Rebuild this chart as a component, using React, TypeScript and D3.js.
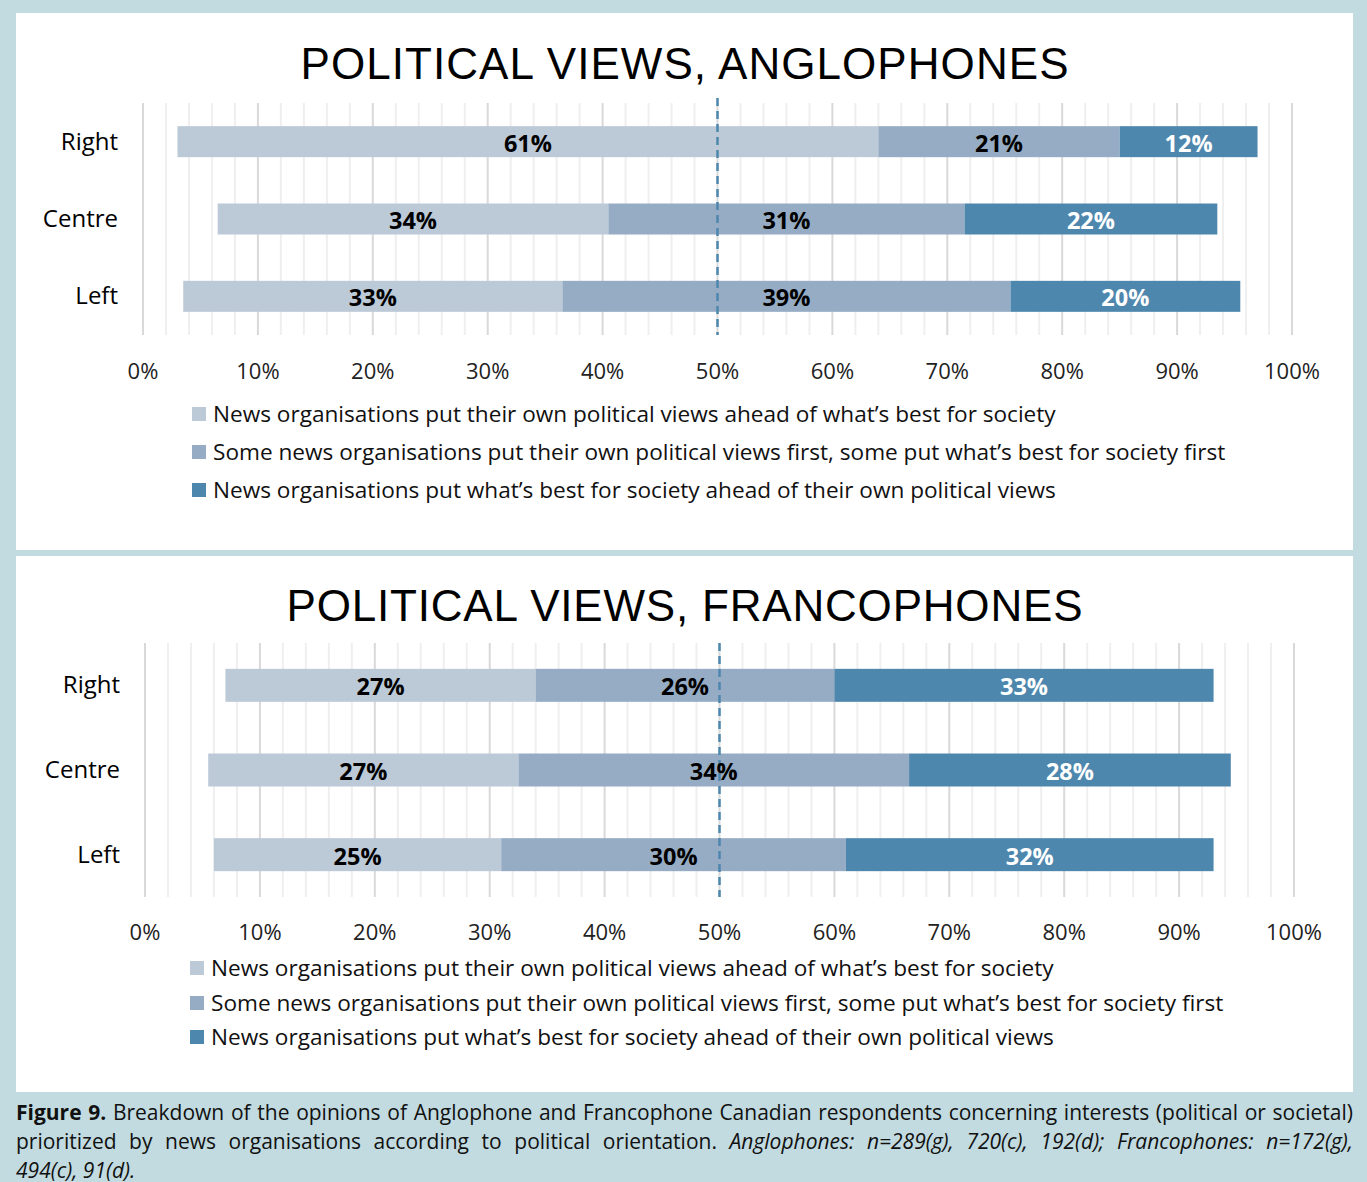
import React, { useMemo } from "react";
import * as d3 from "d3";

const categories = ["Right", "Centre", "Left"];
const seriesKeys = ["offset", "political", "mixed", "society"];
const seriesColors = ["none", "#bccad8", "#95acc4", "#4e87ad"];
const labelColors = ["none", "#000000", "#000000", "#ffffff"];
const legendLabels = [
  "News organisations put their own political views ahead of what\u2019s best for society",
  "Some news organisations put their own political views first, some put what\u2019s best for society first",
  "News organisations put what\u2019s best for society ahead of their own political views",
];
const tickValues = [0, 10, 20, 30, 40, 50, 60, 70, 80, 90, 100];

// Anglophones
const angloOffset = [3, 6.5, 3.5];
const angloPolitical = [61, 34, 33];
const angloMixed = [21, 31, 39];
const angloSociety = [12, 22, 20];

// Francophones
const francoOffset = [7, 5.5, 6];
const francoPolitical = [27, 27, 25];
const francoMixed = [26, 34, 30];
const francoSociety = [33, 28, 32];

const captionLines = [
  [
    ["Figure", "b"], ["9.", "b"], ["Breakdown", "n"], ["of", "n"], ["the", "n"], ["opinions", "n"], ["of", "n"],
    ["Anglophone", "n"], ["and", "n"], ["Francophone", "n"], ["Canadian", "n"], ["respondents", "n"],
    ["concerning", "n"], ["interests", "n"], ["(political", "n"], ["or", "n"], ["societal)", "n"],
  ],
  [
    ["prioritized", "n"], ["by", "n"], ["news", "n"], ["organisations", "n"], ["according", "n"], ["to", "n"],
    ["political", "n"], ["orientation.", "n"], ["Anglophones:", "i"], ["n=289(g),", "i"], ["720(c),", "i"],
    ["192(d);", "i"], ["Francophones:", "i"], ["n=172(g),", "i"],
  ],
  [["494(c),", "i"], ["91(d).", "i"]],
];

const FONT = "'Open Sans', 'Noto Sans', sans-serif";
const BG = "#c2dbe0";

type ChartProps = {
  title: string;
  titleY: number;
  titleLen: number;
  offset: number[];
  political: number[];
  mixed: number[];
  society: number[];
  xRange: [number, number];
  yRange: [number, number];
  barH: number;
  dashTop: number;
  tickY: number;
  legendX: number;
  legendY: number[];
  labelX: number;
};

function Chart(p: ChartProps) {
  const x = d3.scaleLinear().domain([0, 100]).range(p.xRange);
  const y = d3.scalePoint<string>().domain(categories).range(p.yRange).padding(0.5);
  const rows = categories.map((c, i) => ({
    cat: c,
    offset: p.offset[i],
    political: p.political[i],
    mixed: p.mixed[i],
    society: p.society[i],
  }));
  const stacked = d3.stack<any>().keys(seriesKeys)(rows);
  const grid = d3.range(0, 101, 2);
  return (
    <g>
      <text
        x={684.5}
        y={p.titleY}
        textAnchor="middle"
        fontFamily="'Liberation Sans', Arial, sans-serif"
        fontSize={44}
        textLength={p.titleLen}
        lengthAdjust="spacing"
        fill="#000"
      >
        {p.title}
      </text>
      {grid.map((g) => (
        <line
          key={g}
          x1={x(g)}
          x2={x(g)}
          y1={p.yRange[0]}
          y2={p.yRange[1]}
          stroke={g % 10 === 0 ? "#d9d9d9" : "#efefef"}
          strokeWidth={2}
        />
      ))}
      {stacked.map((s, si) =>
        si === 0
          ? null
          : s.map((d, di) => (
              <rect
                key={`${si}-${di}`}
                x={x(d[0])}
                y={(y(categories[di]) as number) - p.barH / 2}
                width={x(d[1]) - x(d[0])}
                height={p.barH}
                fill={seriesColors[si]}
              />
            ))
      )}
      <line
        x1={x(50)}
        x2={x(50)}
        y1={p.dashTop}
        y2={p.yRange[1]}
        stroke="#4e87ad"
        strokeWidth={2.5}
        strokeDasharray="8 5"
      />
      {stacked.map((s, si) =>
        si === 0
          ? null
          : s.map((d, di) => (
              <text
                key={`t${si}-${di}`}
                x={(x(d[0]) + x(d[1])) / 2}
                y={(y(categories[di]) as number) + 10}
                textAnchor="middle"
                fontFamily={FONT}
                fontWeight="bold"
                fontSize={23.5}
                fill={labelColors[si]}
              >
                {`${d[1] - d[0]}%`}
              </text>
            ))
      )}
      {categories.map((c) => (
        <text
          key={c}
          x={p.labelX}
          y={(y(c) as number) + 8}
          textAnchor="end"
          fontFamily={FONT}
          fontSize={24}
          fill="#000"
        >
          {c}
        </text>
      ))}
      {tickValues.map((t) => (
        <text
          key={t}
          x={x(t)}
          y={p.tickY}
          textAnchor="middle"
          fontFamily={FONT}
          fontSize={22}
          fill="#222"
        >
          {`${t}%`}
        </text>
      ))}
      {legendLabels.map((l, i) => (
        <g key={i}>
          <rect x={p.legendX} y={p.legendY[i] - 7} width={14} height={14} fill={seriesColors[i + 1]} />
          <text x={p.legendX + 21} y={p.legendY[i] + 8} fontFamily={FONT} fontSize={22.6} fill="#111">
            {l}
          </text>
        </g>
      ))}
    </g>
  );
}

const CAP_FS = 21;

function Caption() {
  const layout = useMemo(() => {
    const canvas = document.createElement("canvas");
    const ctx = canvas.getContext("2d")!;
    const fontFor = (s: string) =>
      `${s === "b" ? "bold " : ""}${s === "i" ? "italic " : ""}${CAP_FS}px ${FONT}`;
    const left = 16;
    const right = 1353;
    const out: { t: string; s: string; x: number; line: number }[] = [];
    captionLines.forEach((line, li) => {
      const widths = line.map(([t, s]) => {
        ctx.font = fontFor(s);
        return ctx.measureText(t).width;
      });
      ctx.font = fontFor("n");
      const space = ctx.measureText(" ").width;
      const total = widths.reduce((a, b) => a + b, 0);
      const last = li === captionLines.length - 1;
      const gap = last ? space : (right - left - total) / (line.length - 1);
      let cx = left;
      line.forEach(([t, s], i) => {
        out.push({ t, s, x: cx, line: li });
        cx += widths[i] + gap;
      });
    });
    return out;
  }, []);
  return (
    <g>
      {layout.map((w, i) => (
        <text
          key={i}
          x={w.x}
          y={1120 + w.line * 29}
          fontFamily={FONT}
          fontSize={CAP_FS}
          fontWeight={w.s === "b" ? "bold" : "normal"}
          fontStyle={w.s === "i" ? "italic" : "normal"}
          fill="#111"
        >
          {w.t}
        </text>
      ))}
    </g>
  );
}

export default function App() {
  return (
    <div>
      <style>{`body{margin:0;}`}</style>
      <svg width={1367} height={1182} style={{ display: "block" }}>
        <rect x={0} y={0} width={1367} height={1182} fill={BG} />
        <rect x={16} y={13} width={1337} height={537} fill="#fff" />
        <rect x={16} y={556} width={1337} height={536} fill="#fff" />
        <Chart
          title="POLITICAL VIEWS, ANGLOPHONES"
          titleY={79}
          titleLen={768}
          offset={angloOffset}
          political={angloPolitical}
          mixed={angloMixed}
          society={angloSociety}
          xRange={[143, 1292]}
          yRange={[103, 335]}
          barH={31}
          dashTop={98}
          tickY={379}
          legendX={192}
          legendY={[414, 452, 490]}
          labelX={118}
        />
        <Chart
          title="POLITICAL VIEWS, FRANCOPHONES"
          titleY={621}
          titleLen={796}
          offset={francoOffset}
          political={francoPolitical}
          mixed={francoMixed}
          society={francoSociety}
          xRange={[145, 1294]}
          yRange={[643, 897]}
          barH={33}
          dashTop={643}
          tickY={940}
          legendX={190}
          legendY={[968, 1003, 1037]}
          labelX={120}
        />
        <Caption />
      </svg>
    </div>
  );
}
